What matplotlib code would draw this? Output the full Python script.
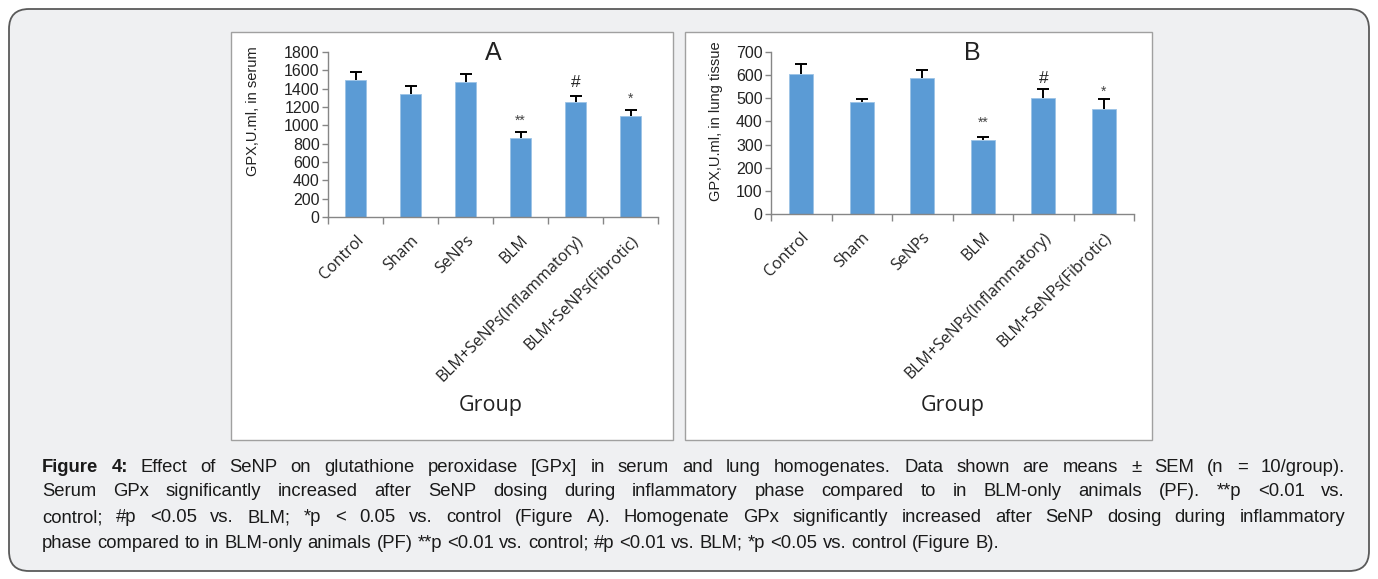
import matplotlib
matplotlib.use("Agg")
import matplotlib.pyplot as plt
import numpy as np
from matplotlib import font_manager
from matplotlib.patches import FancyBboxPatch, Rectangle

groups = ["Control", "Sham", "SeNPs", "BLM",
          "BLM+SeNPs(Inflammatory)", "BLM+SeNPs(Fibrotic)"]

serum_mean = [1500, 1340, 1470, 865, 1250, 1102]
serum_sem = [82, 84, 87, 58, 68, 69]
serum_sig = ["", "", "", "**", "#", "*"]

lung_mean = [607, 483, 588, 320, 500, 454]
lung_sem = [40, 16, 34, 14, 39, 45]
lung_sig = ["", "", "", "**", "#", "*"]

caption = [
    "Figure 4: Effect of SeNP on glutathione peroxidase [GPx] in serum and lung homogenates. Data shown are means \u00b1 SEM (n = 10/group).",
    "Serum GPx significantly increased after SeNP dosing during inflammatory phase compared to in BLM-only animals (PF). **p <0.01 vs.",
    "control; #p <0.05 vs. BLM; *p < 0.05 vs. control (Figure A). Homogenate GPx significantly increased after SeNP dosing during inflammatory",
    "phase compared to in BLM-only animals (PF) **p <0.01 vs. control; #p <0.01 vs. BLM; *p <0.05 vs. control (Figure B).",
]

W, H = 1378, 579
BAR = "#5b9bd5"
AXC = "#868686"
NUM_FONT = ["Liberation Sans", "DejaVu Sans"]
CAT_FONT = ["Open Sans", "DejaVu Sans"]
installed = {f.name for f in font_manager.fontManager.ttflist}
if "Liberation Sans Narrow" in installed:
    CAP_FONT = ["Liberation Sans Narrow", "DejaVu Sans"]
else:
    CAP_FONT = ["Liberation Sans", "DejaVu Sans"]

fig = plt.figure(figsize=(W / 100, H / 100), dpi=100)
fig.patch.set_facecolor("white")


def fx(x):
    return x / W


def fy(y):
    return 1 - y / H


# outer rounded frame
frame = FancyBboxPatch((0.09, 0.08), 13.60, 5.62,
                       boxstyle="round,pad=0,rounding_size=0.2",
                       transform=fig.dpi_scale_trans, facecolor="#eff0f2",
                       edgecolor="#5a5a5a", linewidth=1.3, zorder=-3)
fig.patches.append(frame)

# white panels behind each chart
for x0, x1 in [(231, 673), (685, 1152)]:
    fig.patches.append(Rectangle((fx(x0), fy(440)), fx(x1) - fx(x0), fy(32) - fy(440),
                                 transform=fig.transFigure, facecolor="white",
                                 edgecolor="#a0a0a0", linewidth=1.0, zorder=-2))


def panel(rect, means, sems, sigs, ymax, step, ylabel, ylab_xy, width):
    ax = fig.add_axes(rect)
    ax.set_facecolor("none")
    x = np.arange(len(means))
    tops = np.array(means) + np.array(sems)
    ax.bar(x, means, width=width, color=BAR, edgecolor="#9cc3e6", linewidth=0.6, zorder=2)
    # upper error bar only, Excel style
    ax.vlines(x, means, tops, color="black", linewidth=1.4, zorder=3)
    ax.plot(x, tops, ls="none", marker="_", markersize=9, mew=1.4,
            color="black", zorder=3)
    for xi, m, s in zip(x, means, sigs):
        if not s:
            continue
        off = {"#": 14.5, "*": 12.5, "**": 12.5}[s]
        fs = 12.5 if s == "#" else 10
        col = "#222222" if s == "#" else "#444444"
        ax.annotate(s, xy=(xi, m), xytext=(0, off), textcoords="offset points",
                    ha="center", va="center", fontsize=fs, color=col,
                    family=NUM_FONT)
    ax.set_xlim(-0.5, len(means) - 0.5)
    ax.set_ylim(0, ymax)
    ax.set_yticks(np.arange(0, ymax + 1, step))
    ax.set_xticks(x)
    ax.set_xticklabels(groups, rotation=45, ha="right", rotation_mode="anchor",
                       family=CAT_FONT, fontsize=11.5, color="#222222")
    ax.set_xticks(np.arange(-0.5, len(means)), minor=True)
    ax.tick_params(axis="x", which="major", length=0, pad=11)
    ax.tick_params(axis="x", which="minor", length=5, color=AXC, width=1)
    ax.tick_params(axis="y", length=4, color=AXC, width=1, labelsize=11.5,
                   labelcolor="#222222", pad=2)
    for lab in ax.get_yticklabels():
        lab.set_family(NUM_FONT)
    for side in ["top", "right"]:
        ax.spines[side].set_visible(False)
    for side in ["left", "bottom"]:
        ax.spines[side].set_color(AXC)
        ax.spines[side].set_linewidth(1.0)
    ax.set_ylabel(ylabel, family=NUM_FONT, fontsize=10.5, color="#222222")
    ax.yaxis.set_label_coords(*ylab_xy)
    return ax


axA = panel([fx(328), fy(217), fx(658) - fx(328), fy(52) - fy(217)],
            serum_mean, serum_sem, serum_sig, 1800, 200,
            "GPX,U.ml, in serum", (-0.205, 0.64), 0.38)
axB = panel([fx(771), fy(214), fx(1134) - fx(771), fy(52) - fy(214)],
            lung_mean, lung_sem, lung_sig, 700, 100,
            "GPX,U.ml, in lung tissue", (-0.132, 0.57), 0.40)

fig.text(fx(493), fy(53), "A", ha="center", va="center", fontsize=18,
         family=NUM_FONT, color="#222222")
fig.text(fx(972), fy(53), "B", ha="center", va="center", fontsize=18,
         family=NUM_FONT, color="#222222")
fig.text(fx(491), fy(405), "Group", ha="center", va="center", fontsize=15.5,
         family=CAT_FONT, color="#222222")
fig.text(fx(953), fy(405), "Group", ha="center", va="center", fontsize=15.5,
         family=CAT_FONT, color="#222222")

# caption: size chosen so the last (ragged) line ends near x=1003,
# the first three lines are justified between the margins
renderer = fig.canvas.get_renderer()
x_left, x_right = 42, 1345
probe = fig.text(0, 0, caption[3], fontsize=10, family=CAP_FONT)
cap_fs = 10 * (1003 - x_left) / probe.get_window_extent(renderer).width
probe.remove()

line_y = [467, 492, 518, 543]
for n, (line, y) in enumerate(zip(caption, line_y)):
    words = line.split(" ")
    texts = []
    for k, w in enumerate(words):
        bold = n == 0 and k < 2
        t = fig.text(0, fy(y), w, ha="left", va="center", fontsize=cap_fs,
                     fontweight="bold" if bold else "normal", family=CAP_FONT,
                     color="#1a1a1a")
        texts.append(t)
    widths = [t.get_window_extent(renderer).width for t in texts]
    if n < 3:
        gap = (x_right - x_left - sum(widths)) / (len(texts) - 1)
    else:
        p1 = fig.text(0, 0, "x x", fontsize=cap_fs, family=CAP_FONT)
        p2 = fig.text(0, 0, "xx", fontsize=cap_fs, family=CAP_FONT)
        gap = p1.get_window_extent(renderer).width - p2.get_window_extent(renderer).width
        p1.remove()
        p2.remove()
    xpos = x_left
    for t, w in zip(texts, widths):
        t.set_x(fx(xpos))
        xpos += w + gap

fig.savefig("out.png", dpi=100)
